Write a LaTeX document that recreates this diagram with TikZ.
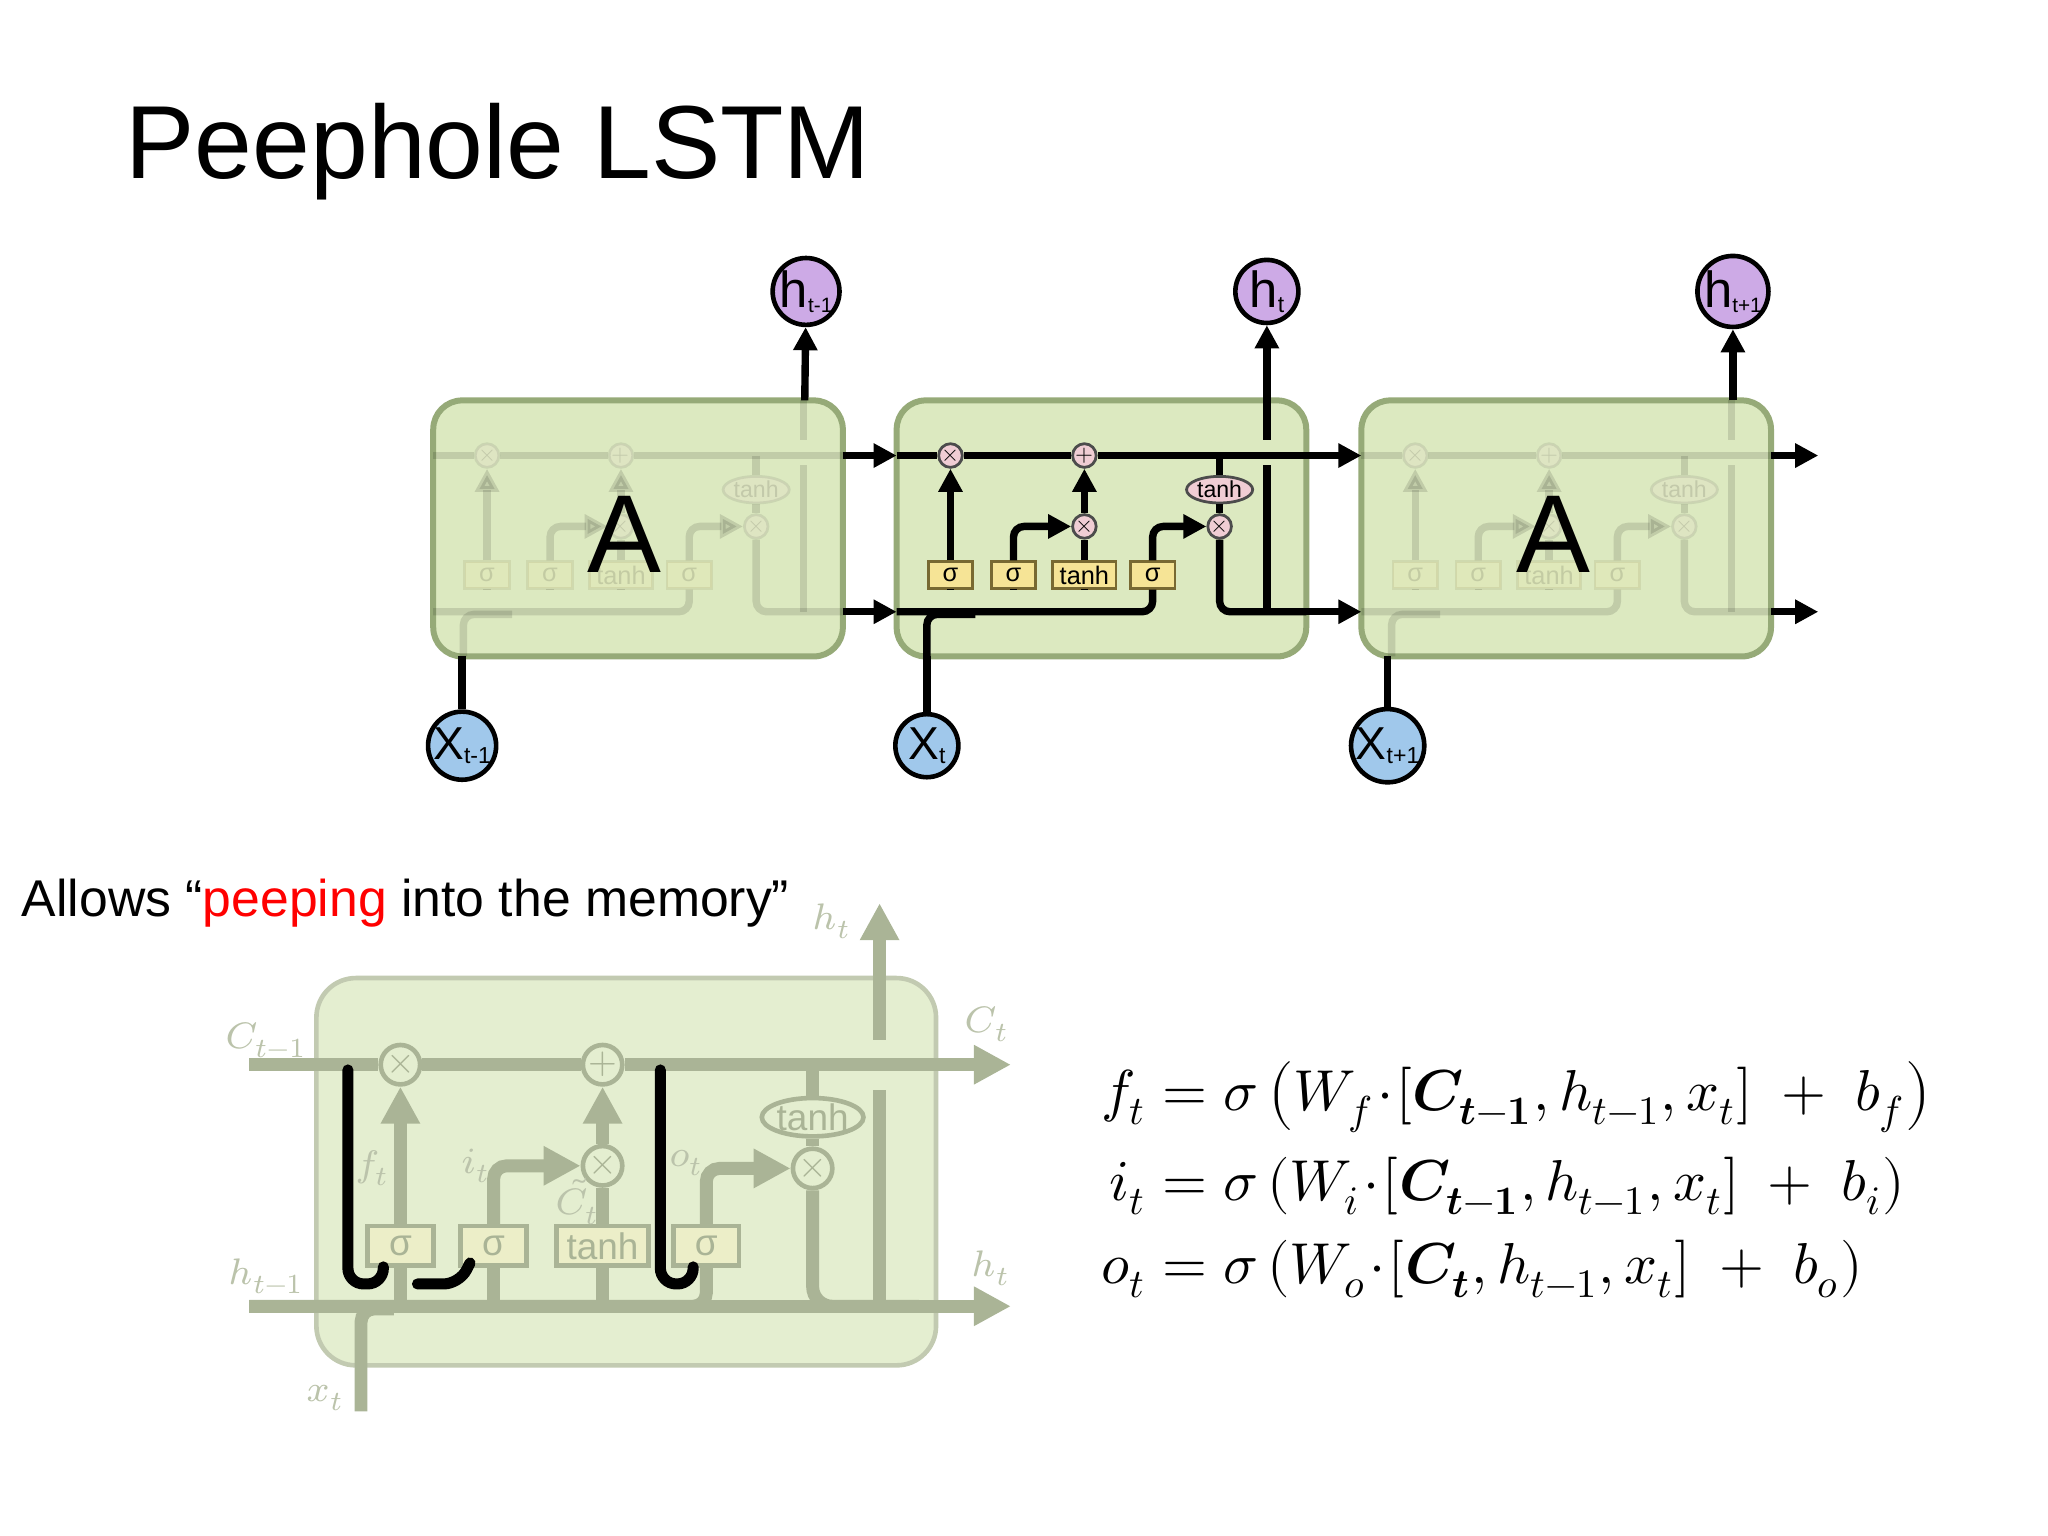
\documentclass[tikz,border=0pt]{standalone}
\usepackage{amsmath}
\usepackage{fontspec}
\setmainfont{Liberation Sans}
\usepackage{unicode-math}
\setmathfont{Latin Modern Math}
\usetikzlibrary{arrows.meta}
\usetikzlibrary{shapes.geometric}
\tikzset{>={Triangle[length=5pt,width=5pt]}}
\definecolor{cellGreen}{RGB}{220,233,192}
\definecolor{cellEdge}{RGB}{150,170,120}
\definecolor{opPink}{RGB}{240,205,212}
\definecolor{gateYellow}{RGB}{246,228,150}
\definecolor{gateEdge}{RGB}{120,105,50}
\definecolor{hPurple}{RGB}{205,170,230}
\definecolor{xBlue}{RGB}{160,200,235}
\definecolor{fadeLine}{RGB}{170,180,150}
\definecolor{fadeFill}{RGB}{228,238,208}
\definecolor{fadeBox}{RGB}{236,238,200}
\tikzset{cellbox/.style={draw=cellEdge,fill=cellGreen,line width=1.3pt,rounded corners=0.22cm}}
\tikzset{wire/.style={line width=1.6pt,black}}
\tikzset{flow/.style={wire,->}}
\tikzset{op/.style={circle,draw=black!70,fill=opPink,line width=0.6pt,minimum size=0.18cm,inner sep=0pt,font=\fontsize{5}{5}\selectfont}}
\tikzset{optanh/.style={ellipse,draw=black!70,fill=opPink,line width=0.6pt,inner sep=0.2pt,font=\fontsize{5}{5}\selectfont}}
\tikzset{gate/.style={rectangle,draw=gateEdge,fill=gateYellow,line width=0.6pt,minimum width=0.34cm,minimum height=0.2cm,inner sep=0pt,font=\fontsize{5.5}{5.5}\selectfont}}
\tikzset{hnode/.style={circle,draw=black,fill=hPurple,line width=1pt,minimum size=0.48cm,inner sep=0pt,font=\fontsize{11}{11}\selectfont}}
\tikzset{xnode/.style={circle,draw=black,fill=xBlue,line width=1pt,minimum size=0.48cm,inner sep=0pt,font=\fontsize{10}{10}\selectfont}}
\tikzset{fwire/.style={line width=2.8pt,fadeLine}}
\tikzset{fflow/.style={fwire,-{Triangle[length=8pt,width=8pt]}}}
\tikzset{fop/.style={circle,draw=fadeLine,line width=1pt,fill=fadeFill,minimum size=0.3cm,inner sep=0pt,text=fadeLine,font=\fontsize{8}{8}\selectfont}}
\tikzset{fgate/.style={rectangle,draw=fadeLine,line width=1pt,fill=fadeBox,minimum width=0.5cm,minimum height=0.3cm,inner sep=0pt,text=fadeLine,font=\fontsize{8}{8}\selectfont}}
\tikzset{flabel/.style={text=fadeLine!80,font=\fontsize{8}{8}\selectfont}}
\tikzset{peep/.style={line width=2.4pt,black,line cap=round}}
% one cell of the chain, #1 = left edge, #2 = name prefix
\newcommand{\lstmcell}[2]{%
\begin{scope}[shift={(#1,0)}]
	\node[op] (#2fx) at (41,347) {$\times$};
	\node[op] (#2ip) at (143,347) {$+$};
	\node[op] (#2ix) at (143,401) {$\times$};
	\node[optanh] (#2th) at (246,373) {tanh};
	\node[op] (#2ox) at (246,401) {$\times$};
	\node[gate] (#2fg) at (41,438) {σ};
	\node[gate] (#2ig) at (89,438) {σ};
	\node[gate,minimum width=0.48cm] (#2cg) at (143,438) {tanh};
	\node[gate] (#2og) at (195,438) {σ};
	\coordinate (#2cin) at (0,347);
	\coordinate (#2cout) at (312,347);
	\coordinate (#2hin) at (0,466);
	\coordinate (#2hout) at (312,466);
	\coordinate (#2hup) at (282,354);
	\coordinate (#2htop) at (282,335);
	\coordinate (#2xbot) at (23,500);
	% cell state and hidden line
	\draw[wire] (#2cin) -- (#2fx) -- (#2ip) -- (#2cout);
	\draw[wire,rounded corners=0.08cm] (#2hin) -| (#2og.south);
	\draw[wire,rounded corners=0.08cm] (#2xbot) |- (60,468);
	\foreach \g in {fg,ig,cg} \draw[wire] (#2\g.south) -- ++(0,-0.08);
	% gates
	\draw[flow] (#2fg) -- (#2fx);
	\draw[flow,rounded corners=0.08cm] (#2ig.north) |- (#2ix);
	\draw[wire] (#2cg) -- (#2ix);
	\draw[flow] (#2ix) -- (#2ip);
	\draw[flow,rounded corners=0.08cm] (#2og.north) |- (#2ox);
	\draw[wire] (#2th |- #2cin) -- (#2th) -- (#2ox);
	\draw[wire,rounded corners=0.08cm] (#2ox) |- (#2hout);
	\draw[wire] (#2hout -| #2hup) -- (#2hup);
	\draw[wire] (#2htop) -- (282,305);
\end{scope}}

\begin{document}
\begin{tikzpicture}[x=0.01cm,y=-0.01cm]
	\useasboundingbox (0,0) rectangle (1560,1170);
	\node[anchor=base west,inner sep=0pt,font=\fontsize{22.5}{22.5}\selectfont] (title) at (95,136) {Peephole LSTM};
	% chain of three cells
	\foreach \l in {330,683,1037} \draw[cellbox] (\l,305) rectangle ++(312,195);
	\begin{scope}[opacity=0.12]
		\lstmcell{330}{a}
		\lstmcell{1037}{c}
	\end{scope}
	\node[font=\fontsize{24}{24}\selectfont] (aA) at (476,407) {A};
	\node[font=\fontsize{24}{24}\selectfont] (cA) at (1183,407) {A};
	\lstmcell{683}{b}
	\node[hnode] (h1) at (614,222) {h\raisebox{-1pt}{\fontsize{4.5}{5}\selectfont t-1}};
	\node[hnode] (h2) at (965,222) {h\raisebox{-1pt}{\fontsize{5}{5}\selectfont t}};
	\node[hnode] (h3) at (1320,222) {h\raisebox{-1pt}{\fontsize{4.5}{5}\selectfont t+1}};
	\node[xnode] (x1) at (352,568) {X\raisebox{-1pt}{\fontsize{5}{5}\selectfont t-1}};
	\node[xnode] (x2) at (706,568) {X\raisebox{-1pt}{\fontsize{5}{5}\selectfont t}};
	\node[xnode] (x3) at (1057,568) {X\raisebox{-1pt}{\fontsize{5}{5}\selectfont t+1}};
	\draw[flow] (613,305) -- (h1);
	\draw[flow] (bhtop) -- (h2);
	\draw[flow] (1320,305) -- (h3);
	\draw[wire] (x1) -- (352,500);
	\draw[wire] (x2) -- (bxbot);
	\draw[wire] (x3) -- (1057,500);
	\draw[flow] (acout) -- (bcin);
	\draw[flow] (ahout) -- (bhin);
	\draw[flow] (bcout) -- (ccin);
	\draw[flow] (bhout) -- (chin);
	\draw[flow] (ccout) -- ++(36,0);
	\draw[flow] (chout) -- ++(36,0);
	% caption
	\node[anchor=base west,inner sep=0pt,font=\fontsize{11.2}{11.2}\selectfont] (cap) at (16,698) {Allows “\textcolor{red}{peeping} into the memory”};
	% faded peephole cell
	\draw[fill=fadeFill,draw=fadeFill!85!black,line width=1pt,rounded corners=0.3cm] (241,745) rectangle (713,1040);
	\node[fop] (px1) at (305,811) {$\times$};
	\node[fop] (pp) at (459,811) {$+$};
	\node[fop] (px2) at (459,888) {$\times$};
	\node[fop,ellipse,minimum width=0.7cm,minimum height=0.28cm] (pth) at (619,851) {tanh};
	\node[fop] (px3) at (619,890) {$\times$};
	\node[fgate] (pg1) at (305,949) {σ};
	\node[fgate] (pg2) at (376,949) {σ};
	\node[fgate,minimum width=0.7cm] (pg3) at (459,949) {tanh};
	\node[fgate] (pg4) at (538,949) {σ};
	\coordinate (pcin) at (190,811);
	\coordinate (pcout) at (770,811);
	\coordinate (phin) at (190,995);
	\coordinate (phout) at (770,995);
	\coordinate (pxt) at (275,1075);
	\coordinate (phtop) at (670,688);
	\draw[fflow] (pcin) -- (px1) -- (pp) -- (pcout);
	\draw[fwire,rounded corners=0.1cm] (phin) -| (pg4.south);
	\draw[fwire,rounded corners=0.1cm] (pxt) |- (300,997);
	\draw[fflow] (phin) -- (phout);
	\foreach \g in {pg1,pg2,pg3} \draw[fwire] (\g.south) -- (\g.south |- phin);
	\draw[fflow] (pg1) -- (px1);
	\draw[fflow,rounded corners=0.1cm] (pg2.north) |- (px2);
	\draw[fwire] (pg3) -- (px2);
	\draw[fflow] (px2) -- (pp);
	\draw[fflow,rounded corners=0.1cm] (pg4.north) |- (px3);
	\draw[fwire] (pth |- pcin) -- (pth) -- (px3);
	\draw[fwire,rounded corners=0.15cm] (px3) |- (700,995);
	\draw[fwire] (670,995) -- (670,830);
	\draw[fflow] (670,792) -- (phtop);
	% peephole connections
	\draw[peep,rounded corners=0.12cm] (265,815) -- (265,978) -- (292,978) -- (292,965);
	\draw[peep,rounded corners=0.12cm] (318,978) -- (350,978) -- (358,962);
	\draw[peep,rounded corners=0.12cm] (503,815) -- (503,978) -- (528,978) -- (528,965);
	% faded labels
	\node[flabel] (lc1) at (203,792) {$C_{t-1}$};
	\node[flabel] (lc2) at (752,780) {$C_t$};
	\node[flabel] (lh1) at (203,972) {$h_{t-1}$};
	\node[flabel] (lh2) at (755,966) {$h_t$};
	\node[flabel] (lh3) at (634,702) {$h_t$};
	\node[flabel] (lx) at (248,1065) {$x_t$};
	\node[flabel] (lf) at (284,890) {$f_t$};
	\node[flabel] (li) at (363,888) {$i_t$};
	\node[flabel] (lct) at (440,915) {$\tilde{C}_t$};
	\node[flabel] (lo) at (523,886) {$o_t$};
	% equations
	\node[anchor=west,inner sep=0pt,font=\fontsize{12.5}{15}\selectfont] (eqs) at (838,901) {$\begin{aligned}
		f_t &= \sigma\left(W_f\!\cdot\![\symbfit{C}_{\symbfit{t}\symbf{-1}},h_{t-1},x_t]\ +\ b_f\right)\\
		i_t &= \sigma\left(W_i\!\cdot\![\symbfit{C}_{\symbfit{t}\symbf{-1}},h_{t-1},x_t]\ +\ b_i\right)\\
		o_t &= \sigma\left(W_o\!\cdot\![\symbfit{C}_{\symbfit{t}},h_{t-1},x_t]\ +\ b_o\right)
	\end{aligned}$};
\end{tikzpicture}
\end{document}
